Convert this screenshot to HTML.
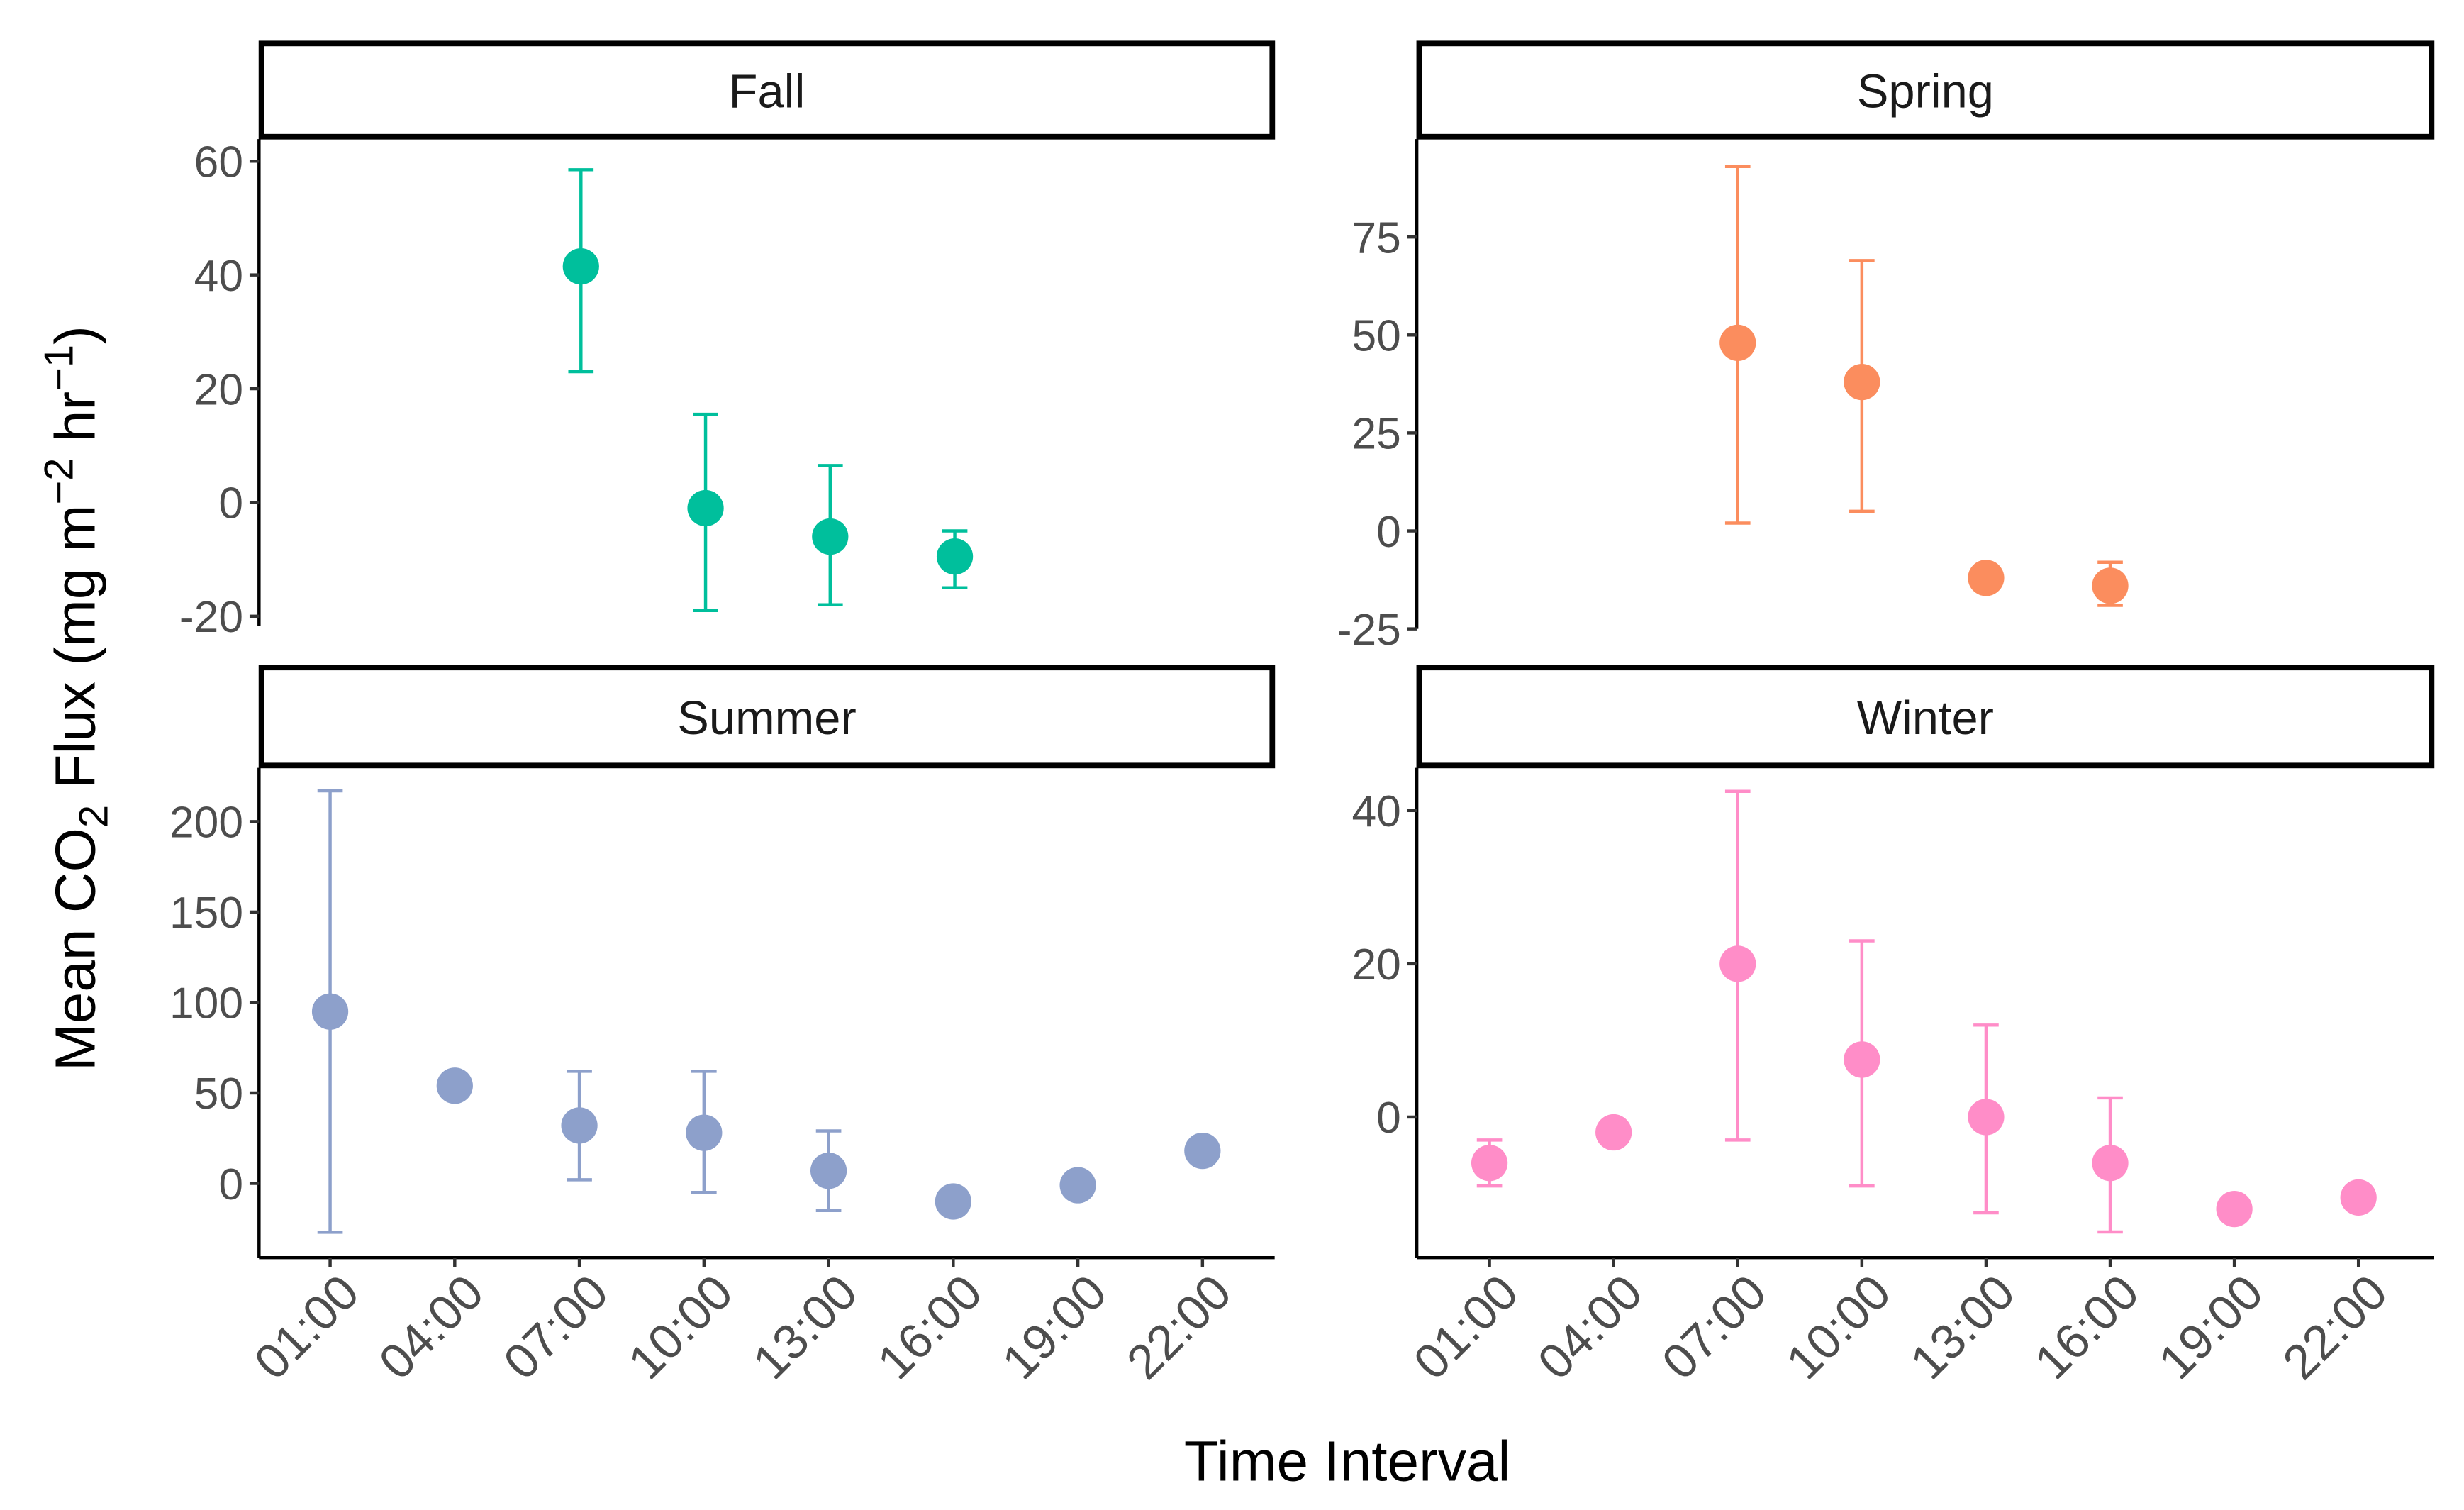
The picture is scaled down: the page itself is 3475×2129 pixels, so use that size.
<!DOCTYPE html>
<html><head><meta charset="utf-8"><style>html,body{margin:0;padding:0;background:#fff}svg{display:block}</style></head>
<body>
<svg id="chart" width="3475" height="2129" viewBox="0 0 1560 955.7" xmlns="http://www.w3.org/2000/svg" font-family="Liberation Sans, Arial, sans-serif">
<text transform="translate(60,442) rotate(-90)" text-anchor="middle" font-size="36" fill="#000">Mean CO<tspan font-size="26" dy="8">2</tspan><tspan dy="-8"> Flux (mg m</tspan><tspan font-size="26" dy="-14">−2</tspan><tspan dy="14"> hr</tspan><tspan font-size="26" dy="-14">−1</tspan><tspan dy="14">)</tspan></text>
<text x="853" y="937" text-anchor="middle" font-size="36" fill="#000">Time Interval</text>
</svg>
<script>
const categories = ["01:00","04:00","07:00","10:00","13:00","16:00","19:00","22:00"];
const fallMean = [null,null,41.5,-1,-6,-9.5,null,null];
const fallLow  = [null,null,23,-19,-18,-15,null,null];
const fallHigh = [null,null,58.5,15.5,6.5,-5,null,null];
const springMean = [null,null,48,38,-12,-14,null,null];
const springLow  = [null,null,2,5,null,-19,null,null];
const springHigh = [null,null,93,69,null,-8,null,null];
const summerMean = [95,54,32,28,7,-10,-1,18];
const summerLow  = [-27,null,2,-5,-15,null,null,12];
const summerHigh = [217,null,62,62,29,null,null,20];
const winterMean = [-6,-2,20,7.5,0,-6,-12,-10.5];
const winterLow  = [-9,null,-3,-9,-12.5,-15,null,null];
const winterHigh = [-3,null,42.5,23,12,2.5,null,null];
const fallTicks = [60,40,20,0,-20];
const springTicks = [75,50,25,0,-25];
const summerTicks = [200,150,100,50,0];
const winterTicks = [40,20,0];

const NS="http://www.w3.org/2000/svg";
const svg=document.getElementById('chart');
function mk(tag,attrs,parent){const e=document.createElementNS(NS,tag);for(const k in attrs)e.setAttribute(k,attrs[k]);(parent||svg).appendChild(e);return e;}

const panels=[
 {name:'fall',title:'Fall',x0:164,x1:807,sy:26,py0:88,py1:396,first:210,step:78.9,v0:0,p0:318,v1:60,p1:102,mean:fallMean,lo:fallLow,hi:fallHigh,ticks:fallTicks,color:'#00BF9C',xaxis:false},
 {name:'spring',title:'Spring',x0:897,x1:1541,sy:26,py0:88,py1:398,first:943,step:78.6,v0:0,p0:336,v1:75,p1:150,mean:springMean,lo:springLow,hi:springHigh,ticks:springTicks,color:'#FB8D5E',xaxis:false},
 {name:'summer',title:'Summer',x0:164,x1:807,sy:421,py0:486,py1:796,first:209,step:78.9,v0:0,p0:749,v1:200,p1:520,mean:summerMean,lo:summerLow,hi:summerHigh,ticks:summerTicks,color:'#8DA0CB',xaxis:true},
 {name:'winter',title:'Winter',x0:897,x1:1541,sy:421,py0:486,py1:796,first:943,step:78.6,v0:0,p0:707,v1:40,p1:513,mean:winterMean,lo:winterLow,hi:winterHigh,ticks:winterTicks,color:'#FF8DC8',xaxis:true}
];
panels.forEach(p=>{
 const g=mk('g',{});
 
 
 const y=v=>p.p0+(v-p.v0)*(p.p1-p.p0)/(p.v1-p.v0);
 const x=i=>p.first+i*p.step;
 const strip=mk('rect',{x:p.x0+1.5,y:p.sy+1.5,width:p.x1-p.x0-3,height:p.py0-p.sy-3,fill:'#fff',stroke:'#000','stroke-width':3.5},g);
 
 
 const st=mk('text',{x:(p.x0+p.x1)/2,y:(p.sy+p.py0)/2+11,'text-anchor':'middle','font-size':30,fill:'#1a1a1a'},g);
 st.textContent=p.title;
 
 
 const ax=mk('line',{x1:p.x0,x2:p.x0,y1:p.py0,y2:p.py1,stroke:'#000','stroke-width':2},g);
 
 
 p.ticks.forEach(t=>{
  mk('line',{x1:p.x0-6,x2:p.x0,y1:y(t),y2:y(t),stroke:'#333','stroke-width':2},g);
  const tl=mk('text',{x:p.x0-10,y:y(t)+10,'text-anchor':'end','font-size':28,fill:'#4D4D4D'},g);
  tl.textContent=t;
  
  
 });
 if(p.xaxis){
  const xa=mk('line',{x1:p.x0,x2:p.x1,y1:p.py1,y2:p.py1,stroke:'#000','stroke-width':2},g);
  
  
  categories.forEach((c,i)=>{
   mk('line',{x1:x(i),x2:x(i),y1:p.py1,y2:p.py1+6,stroke:'#333','stroke-width':2},g);
   const xl=mk('text',{transform:`translate(${x(i)+20},${p.py1+24}) rotate(-45)`,'text-anchor':'end','font-size':31,fill:'#4D4D4D'},g);
   xl.textContent=c;
   
   
  });
 }
 p.mean.forEach((m,i)=>{
  if(m===null)return;
  if(p.lo[i]!==null){
   const eb=mk('g',{stroke:p.color,'stroke-width':2,fill:'none'},g);
   
   
   mk('line',{x1:x(i),x2:x(i),y1:y(p.lo[i]),y2:y(p.hi[i])},eb);
   mk('line',{x1:x(i)-8,x2:x(i)+8,y1:y(p.lo[i]),y2:y(p.lo[i])},eb);
   mk('line',{x1:x(i)-8,x2:x(i)+8,y1:y(p.hi[i]),y2:y(p.hi[i])},eb);
  }
  const pt=mk('circle',{cx:x(i),cy:y(m),r:11.5,fill:p.color},g);
  
  
 });
});
</script>
</body></html>
